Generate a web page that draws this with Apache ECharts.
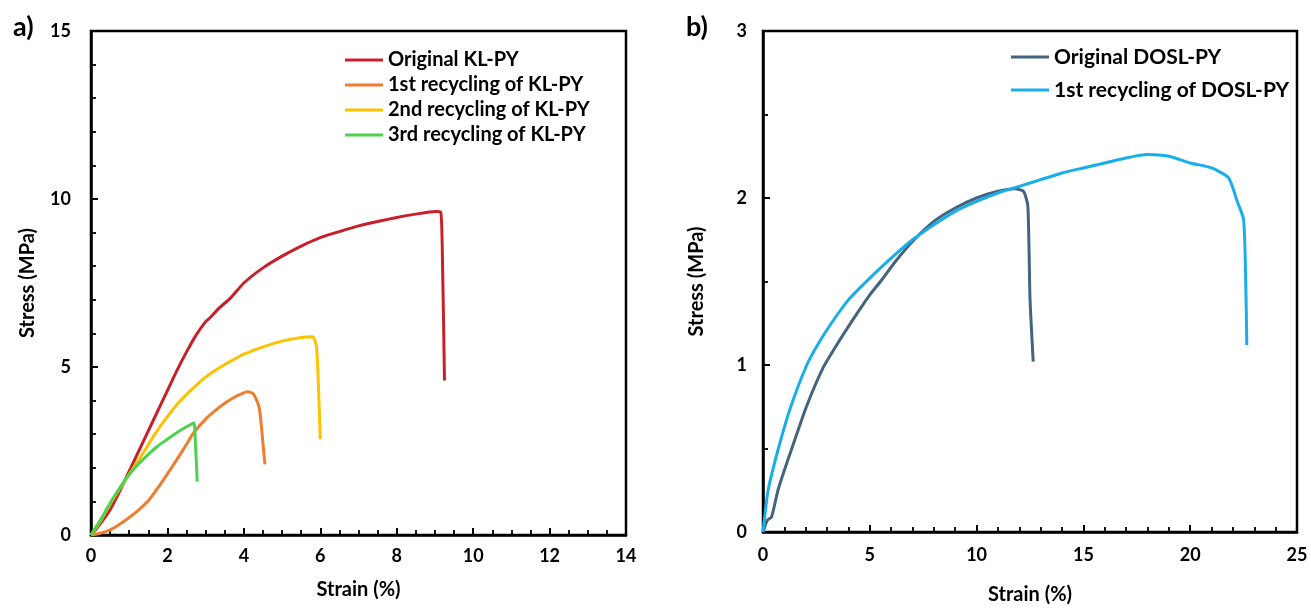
<!DOCTYPE html>
<html>
<head>
<meta charset="utf-8">
<script src="https://cdn.jsdelivr.net/npm/echarts@6/dist/echarts.min.js"></script>
<style>html,body{margin:0;padding:0;background:#fff}#c{width:1311px;height:610px}</style>
</head>
<body>
<div id="c"></div>
<script>
// ---- Panel a) data: [strain %, stress MPa]
const originalKL = [[0,0],[0.15,0.2],[0.3,0.42],[0.5,0.75],[0.75,1.3],[1.0,1.9],[1.25,2.5],[1.5,3.1],[1.75,3.7],[2.0,4.3],[2.25,4.9],[2.5,5.45],[2.75,5.95],[3.0,6.35],[3.1,6.45],[3.35,6.75],[3.65,7.05],[4,7.5],[4.5,7.95],[5,8.3],[5.5,8.6],[6,8.85],[6.5,9.03],[7,9.2],[7.5,9.33],[8,9.45],[8.5,9.55],[9,9.63],[9.15,9.62],[9.2,8.0],[9.25,4.6]];
const recycle1KL = [[0,0],[0.25,0.05],[0.5,0.15],[0.75,0.32],[1,0.52],[1.25,0.75],[1.5,1.02],[1.75,1.4],[2,1.82],[2.25,2.25],[2.5,2.7],[2.69,3.05],[3,3.45],[3.25,3.7],[3.5,3.92],[3.75,4.1],[4,4.23],[4.1,4.26],[4.25,4.2],[4.4,3.8],[4.47,3.1],[4.55,2.1]];
const recycle2KL = [[0,0],[0.25,0.42],[0.54,1.0],[0.85,1.55],[1.14,2.05],[1.4,2.5],[1.64,2.95],[1.95,3.45],[2.3,3.95],[2.7,4.4],[3.0,4.7],[3.35,4.97],[3.7,5.2],[4,5.38],[4.5,5.6],[5,5.77],[5.5,5.88],[5.8,5.9],[5.9,5.6],[5.95,4.5],[6.0,2.85]];
const recycle3KL = [[0,0],[0.25,0.45],[0.5,0.95],[0.75,1.4],[1.0,1.8],[1.25,2.12],[1.5,2.4],[1.75,2.65],[2.0,2.85],[2.25,3.05],[2.5,3.22],[2.69,3.33],[2.73,2.8],[2.78,1.59]];
// ---- Panel b) data
const originalDOSL = [[0,0],[0.2,0.07],[0.4,0.09],[0.7,0.25],[1.0,0.37],[1.35,0.5],[2.0,0.74],[2.8,0.98],[3.5,1.13],[4.15,1.26],[5.0,1.42],[5.5,1.5],[6.2,1.62],[7,1.74],[8,1.86],[9,1.94],[10,2.0],[11,2.04],[11.8,2.055],[12.2,2.04],[12.4,1.95],[12.5,1.4],[12.65,1.02]];
const recycle1DOSL = [[0,0],[0.24,0.25],[0.72,0.5],[1.3,0.75],[2.05,1.0],[2.6,1.13],[3.2,1.25],[4,1.39],[5.0,1.52],[6,1.64],[7,1.75],[8,1.84],[9,1.92],[10,1.98],[11,2.03],[12,2.07],[13,2.11],[14,2.15],[15,2.18],[16,2.21],[17,2.24],[18,2.26],[19,2.25],[20,2.21],[21,2.18],[21.8,2.12],[22.2,1.98],[22.5,1.87],[22.6,1.5],[22.65,1.12]];

const xTicksA = {min:0, max:14, interval:2};
const yTicksA = {min:0, max:15, interval:5};
const xTicksB = {min:0, max:25, interval:5};
const yTicksB = {min:0, max:3, interval:1};

const FONT = 'Lato';
const lbl = (margin) => ({color:'#000', fontFamily:FONT, fontWeight:'bold', fontSize:18, margin});
const axisCommon = (t, minorSplit) => ({
  type:'value', min:t.min, max:t.max, interval:t.interval,
  axisLine:{show:true, lineStyle:{color:'#000', width:2.5}},
  axisTick:{show:true, inside:true, length:7, lineStyle:{color:'#000', width:2}},
  minorTick:{show:true, splitNumber:minorSplit, length:5, lineStyle:{color:'#000', width:1.8}},
  splitLine:{show:false},
  nameTextStyle:{color:'#000', fontFamily:FONT, fontWeight:'bold', fontSize:20},
});

const line = (name, data, color, xi, yi) => ({
  name, type:'line', data, xAxisIndex:xi, yAxisIndex:yi, showSymbol:false, symbol:'none',
  smooth:0.2, lineStyle:{color, width:3}, itemStyle:{color}
});

const chart = echarts.init(document.getElementById('c'));
chart.setOption({
  animation:false,
  backgroundColor:'#fff',
  title:[
    {text:'a)', left:8, top:9, textStyle:{fontFamily:FONT, fontWeight:'bold', fontSize:27, color:'#000'}},
    {text:'b)', left:681, top:9, textStyle:{fontFamily:FONT, fontWeight:'bold', fontSize:27, color:'#000'}}
  ],
  grid:[
    {left:91, width:535, top:31, bottom:75, show:true, borderColor:'#000', borderWidth:2.5, backgroundColor:'transparent'},
    {left:763, width:534, top:31, bottom:75, show:true, borderColor:'#000', borderWidth:2.5, backgroundColor:'transparent'}
  ],
  xAxis:[
    Object.assign(axisCommon(xTicksA,4), {gridIndex:0, name:'Strain (%)', nameLocation:'middle', nameGap:45, axisLabel:lbl(12)}),
    Object.assign(axisCommon(xTicksB,5), {gridIndex:1, name:'Strain (%)', nameLocation:'middle', nameGap:53, axisLabel:lbl(14)})
  ],
  yAxis:[
    Object.assign(axisCommon(yTicksA,5), {gridIndex:0, name:'Stress (MPa)', nameLocation:'middle', nameGap:53, axisLabel:lbl(20)}),
    Object.assign(axisCommon(yTicksB,2), {gridIndex:1, name:'Stress (MPa)', nameLocation:'middle', nameGap:56, axisLabel:lbl(16)})
  ],
  legend:[
    {data:['Original KL-PY','1st recycling of KL-PY','2nd recycling of KL-PY','3rd recycling of KL-PY'],
     orient:'vertical', left:340, top:44, icon:'rect', itemWidth:38, itemHeight:3, itemGap:3,
     textStyle:{fontFamily:FONT, fontWeight:'bold', fontSize:20, color:'#000', lineHeight:22}},
    {data:['Original DOSL-PY','1st recycling of DOSL-PY'],
     orient:'vertical', left:1006, top:41, icon:'rect', itemWidth:38, itemHeight:3, itemGap:11,
     textStyle:{fontFamily:FONT, fontWeight:'bold', fontSize:21, color:'#000', lineHeight:22}}
  ],
  series:[
    line('Original KL-PY', originalKL, '#C8202A', 0, 0),
    line('1st recycling of KL-PY', recycle1KL, '#ED7D31', 0, 0),
    line('2nd recycling of KL-PY', recycle2KL, '#FFC000', 0, 0),
    line('3rd recycling of KL-PY', recycle3KL, '#4CD24C', 0, 0),
    line('Original DOSL-PY', originalDOSL, '#44637F', 1, 1),
    line('1st recycling of DOSL-PY', recycle1DOSL, '#17AEEA', 1, 1)
  ]
});
</script>
</body>
</html>
